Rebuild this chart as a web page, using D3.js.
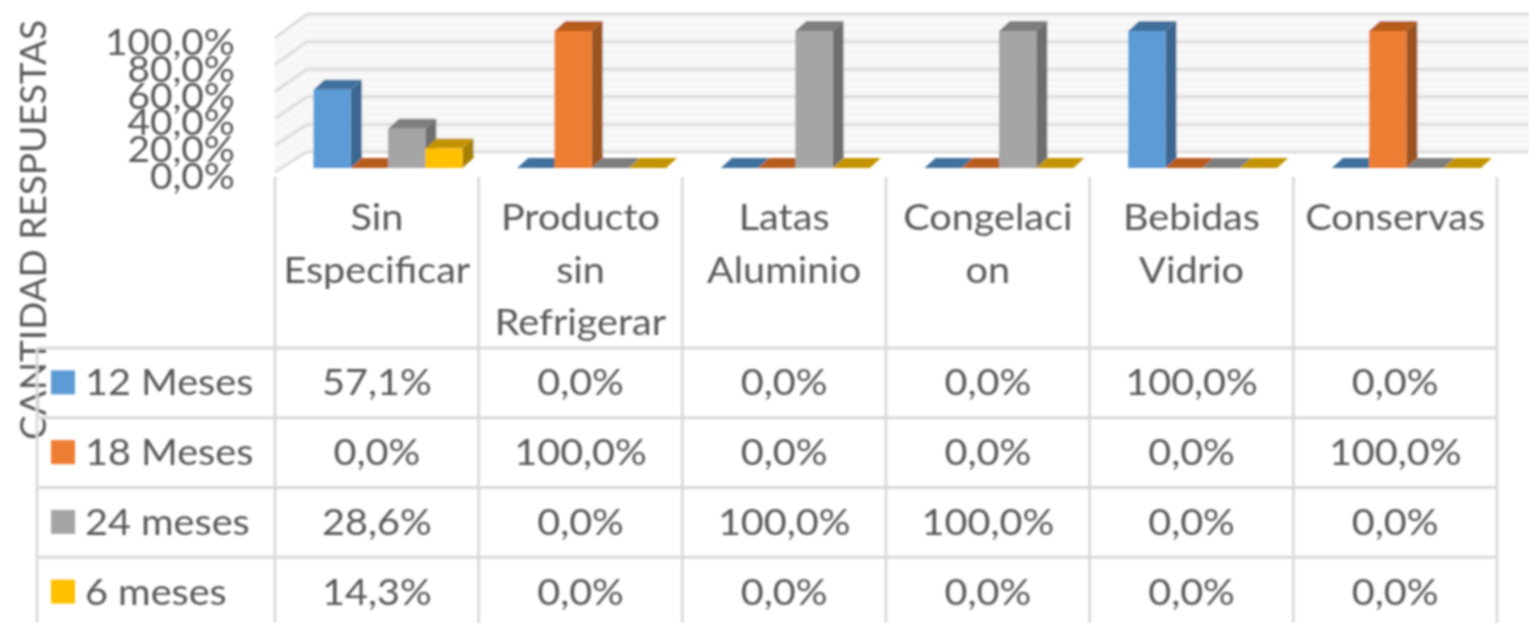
<!DOCTYPE html>
<html><head><meta charset="utf-8">
<script src="https://cdn.jsdelivr.net/npm/d3@7/dist/d3.min.js"></script>
<style>html,body{margin:0;background:#fff}svg{display:block}text{font-family:Lato,"Open Sans",sans-serif;fill:#595959}</style>
</head><body><svg id="c" width="1529" height="623"></svg>
<script>
const categories=[["Sin","Especificar"],["Producto","sin","Refrigerar"],["Latas","Aluminio"],["Congelaci","on"],["Bebidas","Vidrio"],["Conservas"]];
const seriesNames=["12 Meses","18 Meses","24 meses","6 meses"];
const v12=[57.1,0,0,0,100,0];
const v18=[0,100,0,0,0,100];
const v24=[28.6,0,100,100,0,0];
const v6=[14.3,0,0,0,0,0];
const seriesValues=[v12,v18,v24,v6];
const yTicks=[0,20,40,60,80,100];
const axisTitle="CANTIDAD RESPUESTAS";
const front=["#5b9bd5","#ed7d31","#a5a5a5","#ffc000"];
const side=["#3a6690","#9c5220","#6e6e6e","#a67f00"];
const top_=["#41719c","#b85c1e","#7e7e7e","#c49400"];
const fmt=v=>v.toFixed(1).replace(".",",")+"%";

const svg=d3.select("#c");
const defs=svg.append("defs");
defs.append("filter").attr("id","b").attr("x","-5%").attr("y","-5%").attr("width","110%").attr("height","110%")
  .append("feGaussianBlur").attr("stdDeviation",0.9);
const g=svg.append("g").attr("filter","url(#b)");

const x=d3.scaleBand().domain(d3.range(categories.length)).range([275,1497]);
const xi=d3.scaleBand().domain(d3.range(seriesNames.length)).range([38.5,187.5]);
const y=d3.scaleLinear().domain([0,100]).range([168,31]);
const yBack=d3.scaleLinear().domain([0,100]).range([152,14]);
const yWall=d3.scaleLinear().domain([0,100]).range([172,38]);
const yLabel=d3.scaleLinear().domain([0,100]).range([189,55]);
const dx=11,dy=10,wallL=275,wallB=307,right=1529;

g.append("path").attr("fill","#f5f5f5")
 .attr("d",`M${wallL},${yWall(0)}L${wallB},${yBack(0)}L${right},${yBack(0)}L${right},${yBack(100)}L${wallB},${yBack(100)}L${wallL},${yWall(100)}Z`);
const minor=d3.range(0,100,5).filter(d=>d%20);
g.append("g").selectAll("path").data(minor).join("path").attr("fill","none").attr("stroke","#fbfbfb").attr("stroke-width",2)
 .attr("d",d=>`M${wallL},${yWall(d)}L${wallB},${yBack(d)}L${right},${yBack(d)}`);
g.append("g").selectAll("path").data(yTicks).join("path").attr("fill","none").attr("stroke","#d9d9d9").attr("stroke-width",2.4)
 .attr("d",d=>`M${wallL},${yWall(d)}L${wallB},${yBack(d)}L${right},${yBack(d)}`);

seriesValues.forEach((vals,s)=>{
  const w=xi.bandwidth();
  const gs=g.append("g");
  vals.forEach((v,c)=>{
    const x0=x(c)+xi(s),x1=x0+w,yt=y(v),yb=y(0);
    gs.append("path").attr("fill",side[s]).attr("d",`M${x1},${yb}L${x1+dx},${yb-dy}L${x1+dx},${yt-dy}L${x1},${yt}Z`);
    gs.append("path").attr("fill",top_[s]).attr("d",`M${x0},${yt}L${x0+dx},${yt-dy}L${x1+dx},${yt-dy}L${x1},${yt}Z`);
    if(v>0) gs.append("rect").attr("fill",front[s]).attr("x",x0).attr("y",yt).attr("width",w).attr("height",yb-yt);
  });
});

g.append("g").selectAll("text").data(yTicks).join("text")
 .attr("transform",d=>`translate(235,${yLabel(d)}) scale(1.05,1)`).attr("text-anchor","end").attr("font-size",37).text(d=>fmt(d));

g.append("text").attr("transform","translate(46,230) rotate(-90)").attr("text-anchor","middle").attr("font-size",37).text(axisTitle);

const rowY=d3.scaleBand().domain(d3.range(seriesNames.length)).range([348,627]);
const vLines=d3.range(categories.length).map(i=>x(i)).concat([x.range()[1]]);
const grid=g.append("g").attr("stroke","#d9d9d9").attr("stroke-width",2.8);
grid.selectAll(".v").data(vLines).join("line").attr("class","v").attr("x1",d=>d).attr("x2",d=>d).attr("y1",177).attr("y2",623);
grid.append("line").attr("x1",37).attr("x2",37).attr("y1",348).attr("y2",623);
grid.selectAll(".h").data(seriesNames).join("line").attr("class","h").attr("x1",37).attr("x2",x.range()[1])
 .attr("y1",(d,i)=>rowY(i)).attr("y2",(d,i)=>rowY(i));

const fs=36, sx=1.1;
categories.forEach((lines,c)=>{
  g.append("g").selectAll("text").data(lines).join("text").attr("text-anchor","middle").attr("font-size",fs)
   .attr("transform",(d,i)=>`translate(${x(c)+x.bandwidth()/2},${230+i*52.5}) scale(${sx},1)`).text(d=>d);
});
seriesNames.forEach((n,s)=>{
  const cy=rowY(s)+rowY.bandwidth()/2-0.5;
  g.append("rect").attr("x",51).attr("y",cy-12).attr("width",24).attr("height",24).attr("fill",front[s]);
  g.append("text").attr("transform",`translate(85,${cy+13}) scale(${sx},1)`).attr("font-size",fs).text(n);
  g.append("g").selectAll("text").data(seriesValues[s]).join("text").attr("text-anchor","middle").attr("font-size",fs)
   .attr("transform",(d,c)=>`translate(${x(c)+x.bandwidth()/2},${cy+13}) scale(${sx},1)`).text(d=>fmt(d));
});
</script></body></html>
